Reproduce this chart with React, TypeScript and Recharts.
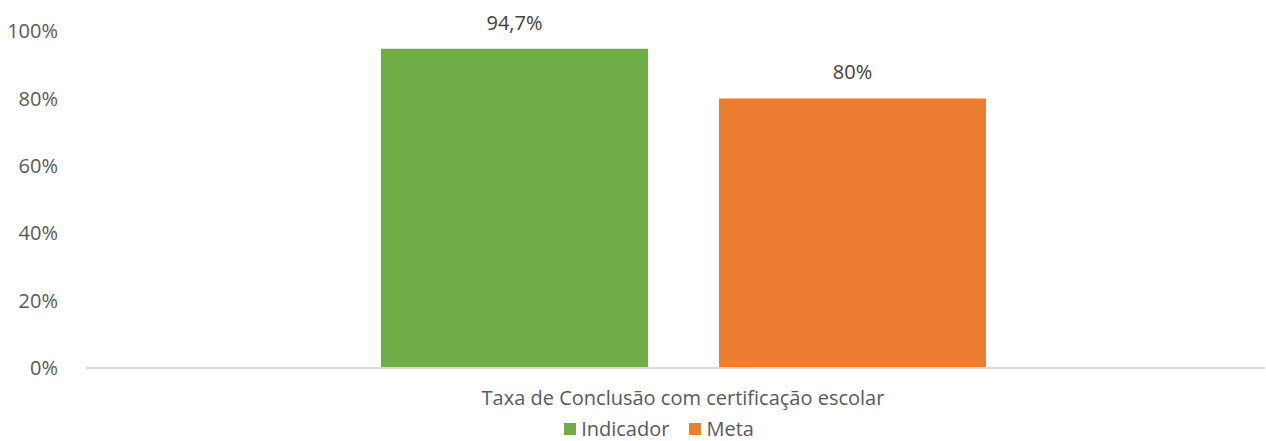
import { Bar, BarChart, LabelList, Legend, XAxis, YAxis } from 'recharts';

const categories = ['Taxa de Conclusão com certificação escolar'];
const indicador = [94.7];
const meta = [80];
const yTicks = [0, 20, 40, 60, 80, 100];
const seriesNames = ['Indicador', 'Meta'];
const seriesColors = ['#70AD47', '#ED7D31'];

const data = categories.map((name, i) => ({ name, Indicador: indicador[i], Meta: meta[i] }));

const font = '"Open Sans", sans-serif';
const textColor = '#595959';

const fmt = (v: any) => `${String(v).replace('.', ',')}%`;

function LegendBox() {
  return (
    <div style={{ display: 'flex', justifyContent: 'center', gap: 20, paddingLeft: 52, fontSize: 20, lineHeight: '22px', color: textColor, fontFamily: font }}>
      {seriesNames.map((s, i) => (
        <div key={s} style={{ display: 'flex', alignItems: 'center', gap: 5 }}>
          <span style={{ width: 12, height: 12, background: seriesColors[i], display: 'inline-block' }} />
          <span>{s}</span>
        </div>
      ))}
    </div>
  );
}

export default function App() {
  return (
    <div style={{ position: 'absolute', top: 0, left: 0, width: 1266, height: 441, background: '#fff', fontFamily: font }}>
      <BarChart
        width={1266}
        height={441}
        data={data}
        margin={{ top: 31, right: 1, left: 0, bottom: 0 }}
        barCategoryGap={280}
        barGap={71}
      >
        <XAxis
          dataKey="name"
          axisLine={{ stroke: '#d9d9d9', strokeWidth: 2 }}
          tickLine={false}
          padding={{ left: 15, right: 0 }}
          tick={{ fill: textColor, fontSize: 20, fontFamily: font }}
          tickMargin={17}
          height={50}
        />
        <YAxis
          domain={[0, 100]}
          ticks={yTicks}
          axisLine={false}
          tickLine={false}
          tickFormatter={(v) => `${v}%`}
          tick={{ fill: textColor, fontSize: 20, fontFamily: font }}
          tickMargin={22}
          width={86}
        />
        <Legend
          verticalAlign="bottom"
          height={23}
          content={() => <LegendBox />}
          wrapperStyle={{ left: 0, width: 1266, bottom: 0 }}
        />
        <Bar dataKey="Indicador" fill={seriesColors[0]} isAnimationActive={false}>
          <LabelList dataKey="Indicador" position="top" offset={19} formatter={fmt} style={{ fill: '#404040', fontSize: 20, fontFamily: font }} />
        </Bar>
        <Bar dataKey="Meta" fill={seriesColors[1]} isAnimationActive={false}>
          <LabelList dataKey="Meta" position="top" offset={19} formatter={fmt} style={{ fill: '#404040', fontSize: 20, fontFamily: font }} />
        </Bar>
      </BarChart>
    </div>
  );
}
